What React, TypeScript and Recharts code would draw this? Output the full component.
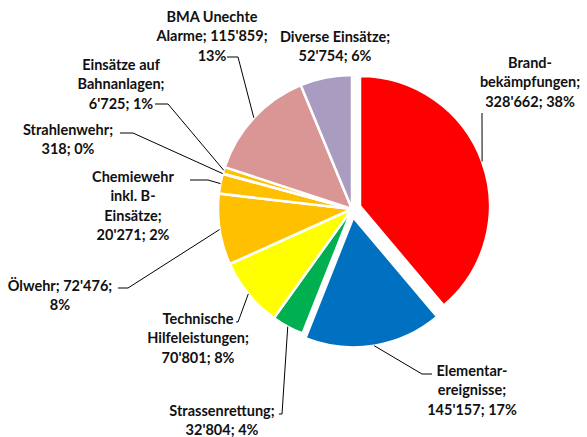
import { PieChart, Pie, Cell } from 'recharts';

const NAMES = [
    'Brandbekämpfungen',
    'Elementarereignisse',
    'Strassenrettung',
    'Technische Hilfeleistungen',
    'Ölwehr',
    'Chemiewehr inkl. B-Einsätze',
    'Strahlenwehr',
    'Einsätze auf Bahnanlagen',
    'BMA Unechte Alarme',
    'Diverse Einsätze',
];
const VALUES = [328662, 145157, 32804, 70801, 72476, 20271, 318, 6725, 115859, 52754];
const COLORS = ['#FF0000', '#0070C0', '#00B050', '#FFFF00', '#FFC000', '#FFC000', '#FFC000', '#FFC000', '#D99694', '#AA9BC1'];
const LABEL_LINES = [
    ['Brand-', 'bekämpfungen;', "328'662; 38%"],
    ['Elementar-', 'ereignisse;', "145'157; 17%"],
    ['Strassenrettung;', "32'804; 4%"],
    ['Technische', 'Hilfeleistungen;', "70'801; 8%"],
    ["Ölwehr; 72'476;", '8%'],
    ['Chemiewehr', 'inkl. B-', 'Einsätze;', "20'271; 2%"],
    ['Strahlenwehr;', '318; 0%'],
    ['Einsätze auf', 'Bahnanlagen;', "6'725; 1%"],
    ['BMA Unechte', "Alarme; 115'859;", '13%'],
    ['Diverse Einsätze;', "52'754; 6%"],
];
const EXPLODED = [0, 1];

// layout
const CX = 352;
const CY = 209;
const R = 134;
const R_EXPLODED = 130;
const EXPLODE_DIST = 8.5;
const LINE_H = 19.5;
// tx/ty: label centre of first line, ex/ey: elbow of leader, hx: end of horizontal tick
const LABEL_LAYOUT = [
    { tx: 530, ty: 62, ex: 482, ey: 113, hx: 482 },
    { tx: 472, ty: 370, ex: 422, ey: 374, hx: 432 },
    { tx: 222, ty: 410, ex: 282, ey: 414, hx: 279 },
    { tx: 198, ty: 318, ex: 238, ey: 322, hx: 236 },
    { tx: 60, ty: 285, ex: 128, ey: 288, hx: 118 },
    { tx: 133, ty: 176, ex: 208, ey: 180, hx: 190 },
    { tx: 68, ty: 129, ex: 133, ey: 133, hx: 120 },
    { tx: 121, ty: 64, ex: 168, ey: 104, hx: 155 },
    { tx: 212, ty: 16, ex: 238, ey: 57, hx: 227 },
    { tx: 335, ty: 36, ex: null, ey: null, hx: null },
];

const data = NAMES.map((name, i) => ({ name, value: VALUES[i] }));
const total = VALUES.reduce((a, b) => a + b, 0);

function midAngleOf(i: number) {
    const before = VALUES.slice(0, i).reduce((a, b) => a + b, 0);
    return ((before + VALUES[i] / 2) / total) * 2 * Math.PI;
}

const groups = [
    { idx: NAMES.map((_, i) => i).filter((i) => !EXPLODED.includes(i)), dx: 0, dy: 0, r: R },
    ...EXPLODED.map((i) => ({
        idx: [i],
        dx: Math.sin(midAngleOf(i)) * EXPLODE_DIST,
        dy: -Math.cos(midAngleOf(i)) * EXPLODE_DIST,
        r: R_EXPLODED,
    })),
];

function makeLabel(idx: number[]) {
    return (props: any) => {
        const { cx, cy, midAngle, outerRadius, index } = props;
        if (!idx.includes(index)) return null;
        const lay = LABEL_LAYOUT[index];
        const rad = (-midAngle * Math.PI) / 180;
        const px = cx + outerRadius * Math.cos(rad);
        const py = cy + outerRadius * Math.sin(rad);
        return (
            <g key={`lbl-${index}`}>
                {lay.ex !== null && (
                    <polyline
                        points={`${px},${py} ${lay.ex},${lay.ey} ${lay.hx},${lay.ey}`}
                        fill="none"
                        stroke="#000"
                        strokeWidth={1}
                    />
                )}
                {LABEL_LINES[index].map((line, j) => (
                    <text
                        key={j}
                        x={lay.tx}
                        y={lay.ty + j * LINE_H}
                        textAnchor="middle"
                        dominantBaseline="central"
                        fontFamily="Lato, sans-serif"
                        fontWeight={700}
                        fontSize={14.5}
                        fill="#111"
                    >
                        {line}
                    </text>
                ))}
            </g>
        );
    };
}

export default function App() {
    return (
        <div style={{ position: 'absolute', left: 0, top: 0, background: '#fff' }}>
            <PieChart width={587} height={437} margin={{ top: 0, right: 0, bottom: 0, left: 0 }}>
                {groups.map((g, gi) => (
                    <Pie
                        key={gi}
                        data={data}
                        dataKey="value"
                        nameKey="name"
                        cx={CX + g.dx}
                        cy={CY + g.dy}
                        outerRadius={g.r}
                        startAngle={90}
                        endAngle={-270}
                        isAnimationActive={false}
                        labelLine={false}
                        label={makeLabel(g.idx)}
                    >
                        {data.map((_, i) => (
                            <Cell
                                key={i}
                                fill={g.idx.includes(i) ? COLORS[i] : 'transparent'}
                                stroke={g.idx.includes(i) ? '#fff' : 'none'}
                                strokeWidth={2.5}
                            />
                        ))}
                    </Pie>
                ))}
            </PieChart>
        </div>
    );
}
